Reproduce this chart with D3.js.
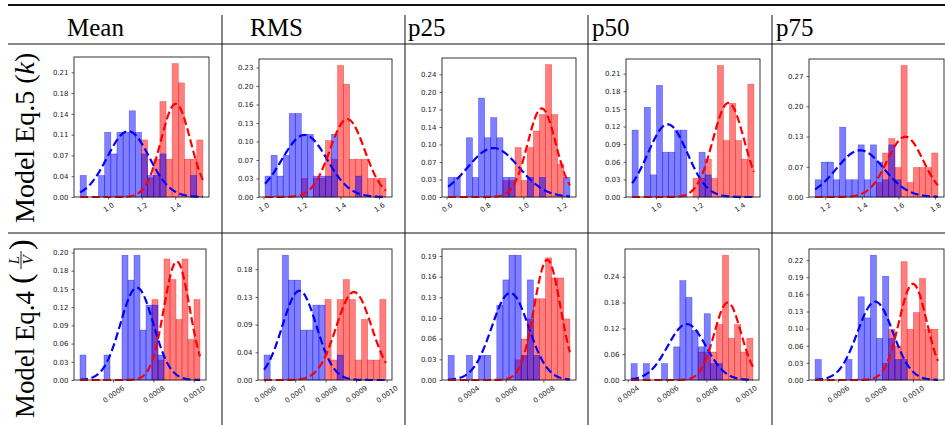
<!DOCTYPE html>
<html><head><meta charset="utf-8">
<script src="https://cdn.jsdelivr.net/npm/d3@7"></script>
<style>body{margin:0;background:#fff}svg{display:block}</style>
</head><body>
<svg id="chart" width="945" height="425"></svg>
<script>
// ---------------- data ----------------
const columns = ["Mean", "RMS", "p25", "p50", "p75"];
const rowLabels = ["Model Eq.5", "Model Eq.4"];
// panel order: row 1 (k) Mean,RMS,p25,p50,p75 ; row 2 (L/V) Mean,RMS,p25,p50,p75
// histogram range [min, max] of the 20 shared bins
const binRanges = [
  [0.833, 1.565], [1.008, 1.636], [0.608, 1.243], [0.885, 1.470], [1.145, 1.815],
  [0.000436, 0.001031], [0.000598, 0.000998], [0.000294, 0.000941], [0.000417, 0.001036], [0.000479, 0.001133]
];
const blueHeights = [
  [0.037,0,0,0.037,0.111,0.074,0.111,0.111,0.148,0.111,0.074,0.037,0.037,0.074,0,0,0,0,0.037,0],
  [0.037,0.074,0.037,0.074,0.148,0.148,0.111,0.111,0.037,0.037,0.037,0.111,0,0,0,0.037,0,0,0,0],
  [0.038,0.038,0,0.115,0.038,0.192,0.115,0.154,0.115,0.038,0.038,0,0,0.038,0,0.038,0,0,0,0.038],
  [0.115,0,0.154,0.038,0.192,0.077,0.077,0.115,0.115,0,0,0.077,0.038,0,0,0,0,0,0,0],
  [0.038,0.077,0.077,0.038,0.154,0.038,0.038,0.115,0.038,0.115,0.077,0.038,0.115,0.038,0,0,0,0,0,0],
  [0.04,0,0,0,0.04,0,0,0.2,0.16,0.2,0.08,0.12,0.12,0.04,0,0,0,0,0,0],
  [0.04,0,0,0.2,0.16,0.16,0.08,0.08,0.12,0.12,0,0,0.04,0,0,0,0,0,0,0],
  [0.038,0,0,0.038,0,0.038,0.038,0,0.115,0.154,0.192,0.192,0.038,0.154,0.038,0,0,0,0,0],
  [0.038,0,0.038,0,0,0.038,0,0.077,0.231,0.192,0.115,0.077,0.154,0.038,0.038,0,0,0,0,0],
  [0.038,0,0,0,0,0.038,0,0.154,0.115,0.231,0.077,0.192,0.077,0.038,0.038,0,0,0,0,0]
];
const redHeights = [
  [0,0,0,0,0,0,0,0,0,0,0.098,0.033,0.065,0.164,0.065,0.229,0.196,0.065,0.065,0.098],
  [0,0,0,0,0,0,0.033,0,0.033,0.033,0.1,0.067,0.233,0.2,0.067,0.067,0.067,0.033,0.033,0.033],
  [0,0,0,0,0,0,0,0,0,0.032,0.032,0.096,0.032,0.096,0.128,0.16,0.257,0.16,0.064,0],
  [0,0,0,0,0,0,0,0,0,0,0.032,0.032,0.065,0.032,0.226,0.097,0.161,0.097,0.065,0.194],
  [0,0,0,0,0,0,0,0,0,0,0.032,0.097,0.129,0.065,0.29,0.032,0.065,0.065,0.065,0.097],
  [0,0,0,0,0,0,0,0,0,0,0,0,0.129,0.032,0.194,0.161,0.097,0.194,0.065,0.129],
  [0,0,0,0,0,0,0,0,0,0,0.129,0.032,0.129,0.161,0.129,0.032,0.097,0.032,0.032,0.129],
  [0,0,0,0,0,0,0,0,0,0,0,0.031,0.063,0.094,0.125,0.125,0.188,0.157,0.157,0.094],
  [0,0,0,0,0,0,0,0,0,0,0,0.065,0.065,0.065,0.129,0.29,0.097,0.129,0.065,0.097],
  [0,0,0,0,0,0,0,0,0,0,0,0.031,0.094,0.063,0.219,0.094,0.125,0.188,0.094,0.094]
];
// fitted normal curves: [mean, std, peak height]
const blueFits = [
  [1.12, 0.125, 0.113], [1.213, 0.117, 0.11], [0.844, 0.134, 0.095], [1.056, 0.094, 0.125], [1.391, 0.13, 0.103],
  [0.000718, 0.000082, 0.148], [0.000714, 0.000056, 0.143], [0.000624, 0.0000985, 0.134], [0.0007, 0.000097, 0.13], [0.000799, 0.000095, 0.145]
];
const redFits = [
  [1.403, 0.088, 0.160], [1.435, 0.09, 0.138], [1.096, 0.073, 0.172], [1.348, 0.075, 0.162], [1.637, 0.098, 0.133],
  [0.000916, 0.000064, 0.19], [0.000893, 0.000058, 0.141], [0.000821, 0.00007, 0.185], [0.000908, 0.000068, 0.18], [0.001, 0.000074, 0.178]
];
const xTickValues = [
  [1.0, 1.2, 1.4], [1.0, 1.2, 1.4, 1.6], [0.6, 0.8, 1.0, 1.2], [1.0, 1.2, 1.4], [1.2, 1.4, 1.6, 1.8],
  [0.0006, 0.0008, 0.0010], [0.0006, 0.0007, 0.0008, 0.0009, 0.0010], [0.0004, 0.0006, 0.0008], [0.0004, 0.0006, 0.0008, 0.0010], [0.0006, 0.0008, 0.0010]
];
const xTickLabels = [
  ["1.0","1.2","1.4"], ["1.0","1.2","1.4","1.6"], ["0.6","0.8","1.0","1.2"], ["1.0","1.2","1.4"], ["1.2","1.4","1.6","1.8"],
  ["0.0006","0.0008","0.0010"], ["0.0006","0.0007","0.0008","0.0009","0.0010"], ["0.0004","0.0006","0.0008"], ["0.0004","0.0006","0.0008","0.0010"], ["0.0006","0.0008","0.0010"]
];
const yTickSteps = [0.0357, 0.0328, 0.034, 0.0303, 0.0667, 0.0292, 0.0444, 0.0318, 0.06, 0.0317];
const yTickLabels = [
  ["0.00","0.04","0.07","0.11","0.14","0.18","0.21"],
  ["0.00","0.03","0.07","0.10","0.13","0.16","0.20","0.23"],
  ["0.00","0.03","0.07","0.10","0.14","0.17","0.20","0.24"],
  ["0.00","0.03","0.06","0.09","0.12","0.15","0.18","0.21"],
  ["0.00","0.07","0.13","0.20","0.27"],
  ["0.00","0.03","0.06","0.09","0.12","0.15","0.18","0.20"],
  ["0.00","0.04","0.09","0.13","0.18"],
  ["0.00","0.03","0.06","0.10","0.13","0.16","0.19"],
  ["0.00","0.06","0.12","0.18","0.24"],
  ["0.00","0.03","0.06","0.10","0.13","0.16","0.19","0.22"]
];

// ---------------- layout ----------------
const panelBoxes = [
  [74,209,57,197],[259,392,59,197],[442,576,58,197],[626,760,59,197],[809,944,59,197],
  [74,206,249,380],[258,392,249,380],[442,576,249,380],[625,759,249,380],[809,944,249,380]
];
const headerX = [67, 250, 408, 592, 776];
const colSeparators = [222, 405, 588, 772];
const BLUE = "#0000ff", RED = "#ff0000";
const tickFont = "'DejaVu Sans', sans-serif";
const serif = "'Liberation Serif', 'Times New Roman', serif";

const svg = d3.select("#chart");

// table rules
const rules = svg.append("g").attr("stroke", "#111").attr("fill", "none");
rules.append("line").attr("x1", 8).attr("x2", 945).attr("y1", 5).attr("y2", 5).attr("stroke-width", 2);
rules.append("line").attr("x1", 8).attr("x2", 945).attr("y1", 44).attr("y2", 44).attr("stroke-width", 1);
rules.append("line").attr("x1", 8).attr("x2", 945).attr("y1", 233).attr("y2", 233).attr("stroke-width", 1);
rules.selectAll("line.v").data(colSeparators).join("line").attr("class", "v")
  .attr("x1", d => d).attr("x2", d => d).attr("y1", 15).attr("y2", 425).attr("stroke-width", 1);

// headers
svg.append("g").selectAll("text").data(columns).join("text")
  .attr("x", (d, i) => headerX[i]).attr("y", 36)
  .attr("font-family", serif).attr("font-size", 25).attr("fill", "#000")
  .text(d => d);

// row label 1
const rl1 = svg.append("text").attr("transform", "translate(33.5,223) rotate(-90)")
  .attr("font-family", serif).attr("font-size", 28).attr("fill", "#000");
rl1.append("tspan").text(rowLabels[0] + " (");
rl1.append("tspan").attr("font-style", "italic").text("k");
rl1.append("tspan").text(")");

// row label 2
const rl2 = svg.append("g").attr("transform", "translate(33.5,418) rotate(-90)")
  .attr("font-family", serif).attr("fill", "#000");
rl2.append("text").attr("font-size", 28).attr("textLength", 127).attr("lengthAdjust", "spacingAndGlyphs").text(rowLabels[1]);
rl2.append("text").attr("x", 134).attr("y", -3).attr("font-size", 32).text("(");
rl2.append("text").attr("x", 158).attr("y", -15).attr("font-size", 15).attr("font-style", "italic").attr("text-anchor", "middle").text("L");
rl2.append("line").attr("x1", 149).attr("x2", 167).attr("y1", -12.5).attr("y2", -12.5).attr("stroke", "#000").attr("stroke-width", 0.9);
rl2.append("text").attr("x", 158).attr("y", -0.5).attr("font-size", 15).attr("font-style", "italic").attr("text-anchor", "middle").text("V");
rl2.append("text").attr("x", 168).attr("y", -3).attr("font-size", 32).text(")");

const gauss = (v, f) => f[2] * Math.exp(-0.5 * ((v - f[0]) / f[1]) ** 2);

panelBoxes.forEach((box, i) => {
  const [x0, x1, y0, y1] = box;
  const [lo, hi] = binRanges[i];
  const pad = (hi - lo) * 0.05;
  const x = d3.scaleLinear().domain([lo - pad, hi + pad]).range([x0, x1]);
  const nb = blueHeights[i].length;
  const edges = d3.range(nb + 1).map(k => lo + (hi - lo) * k / nb);
  const bf = blueFits[i], rf = redFits[i];
  const top = d3.max([...blueHeights[i], ...redHeights[i], bf[2], rf[2]]) * 1.05;
  const y = d3.scaleLinear().domain([0, top]).range([y1, y0]);
  const g = svg.append("g");

  [[redHeights[i], RED], [blueHeights[i], BLUE]].forEach(([hs, col]) => {
    g.append("g").selectAll("rect")
      .data(hs.map((h, k) => ({ h, k })).filter(d => d.h > 0))
      .join("rect")
      .attr("x", d => x(edges[d.k])).attr("width", d => x(edges[d.k + 1]) - x(edges[d.k]))
      .attr("y", d => y(d.h)).attr("height", d => y(0) - y(d.h))
      .attr("fill", col).attr("fill-opacity", 0.5)
      .attr("stroke", col).attr("stroke-opacity", 0.5).attr("stroke-width", 0.6);
  });

  const xs = d3.range(121).map(k => lo + (hi - lo) * k / 120);
  const line = d3.line().x(d => x(d[0])).y(d => y(d[1]));
  [[bf, BLUE], [rf, RED]].forEach(([f, col]) => {
    g.append("path").datum(xs.map(v => [v, gauss(v, f)]))
      .attr("d", line).attr("fill", "none").attr("stroke", col)
      .attr("stroke-width", 2.2).attr("stroke-dasharray", "8,3.6");
  });

  g.append("rect").attr("x", x0).attr("y", y0).attr("width", x1 - x0).attr("height", y1 - y0)
    .attr("fill", "none").attr("stroke", "#222").attr("stroke-width", 0.9);

  const yt = d3.range(yTickLabels[i].length).map(k => k * yTickSteps[i]);
  const ya = g.append("g").attr("transform", `translate(${x0},0)`)
    .call(d3.axisLeft(y).tickValues(yt).tickFormat((d, k) => yTickLabels[i][k]).tickSize(2.5).tickPadding(3));
  ya.select(".domain").remove();
  ya.selectAll("line").attr("stroke", "#222").attr("stroke-width", 0.7);
  ya.selectAll("text").attr("font-family", tickFont).attr("font-size", 7).attr("fill", "#222");

  const xa = g.append("g").attr("transform", `translate(0,${y1})`)
    .call(d3.axisBottom(x).tickValues(xTickValues[i]).tickFormat((d, k) => xTickLabels[i][k]).tickSize(2.5));
  xa.select(".domain").remove();
  xa.selectAll("line").attr("stroke", "#222").attr("stroke-width", 0.7);
  xa.selectAll("text").each(function () {
    const t = d3.select(this).attr("font-family", tickFont).attr("font-size", 7).attr("fill", "#222")
      .attr("y", 0).attr("dy", "0.35em").attr("text-anchor", "middle");
    const w = this.getComputedTextLength();
    const a = 35 * Math.PI / 180, h = 5.2;
    const hb = w * Math.sin(a) + h * Math.cos(a);
    t.attr("transform", `translate(0,${5 + hb / 2}) rotate(-35)`);
  });
});
</script>
</body></html>
